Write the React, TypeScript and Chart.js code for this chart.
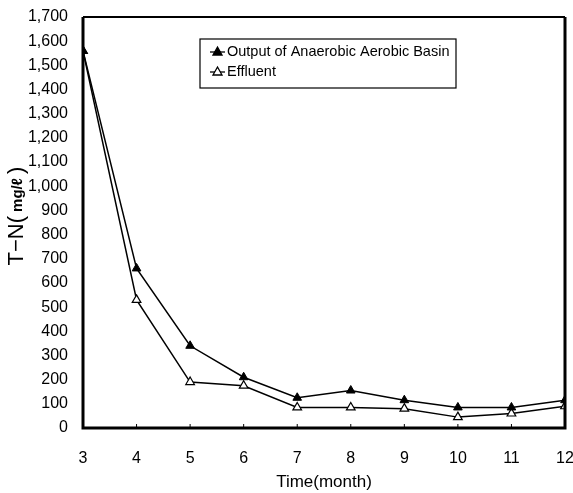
import React, { useEffect, useRef } from "react";
import { Chart, registerables } from "chart.js";

Chart.register(...registerables);

const months = [3, 4, 5, 6, 7, 8, 9, 10, 11, 12];
const outputAnaerobicAerobic = [1560, 660, 340, 210, 125, 155, 115, 85, 85, 115];
const effluent = [1560, 530, 190, 175, 85, 85, 80, 45, 60, 90];
const seriesLabels = ["Output of Anaerobic Aerobic Basin", "Effluent"];
const xTitle = "Time(month)";
const yTitleParts = ["T\u2212N(", "mg/\u2113", ")"];

const FONT = "'Liberation Sans', Arial, sans-serif";

const frameAndLegend = {
  id: "frameAndLegend",
  afterDatasetsDraw(chart: any) {
    const { ctx, chartArea: a, scales } = chart;
    ctx.save();
    // inner tick marks on x axis
    ctx.strokeStyle = "#000";
    ctx.lineWidth = 1;
    scales.x.ticks.forEach((t: any) => {
      const px = scales.x.getPixelForValue(t.value);
      ctx.beginPath();
      ctx.moveTo(px, a.bottom);
      ctx.lineTo(px, a.bottom - 4);
      ctx.stroke();
    });
    // frame
    ctx.lineWidth = 3;
    ctx.beginPath();
    ctx.moveTo(a.left, a.top);
    ctx.lineTo(a.left, a.bottom);
    ctx.lineTo(a.right, a.bottom);
    ctx.lineTo(a.right, a.top);
    ctx.stroke();
    ctx.lineWidth = 1.8;
    ctx.beginPath();
    ctx.moveTo(a.left, a.top);
    ctx.lineTo(a.right, a.top);
    ctx.stroke();

    // legend
    const bx = 200, by = 39, bw = 256, bh = 49;
    ctx.fillStyle = "#fff";
    ctx.fillRect(bx, by, bw, bh);
    ctx.lineWidth = 1.2;
    ctx.strokeStyle = "#000";
    ctx.strokeRect(bx, by, bw, bh);
    const rows = [52, 72];
    chart.data.datasets.forEach((ds: any, i: number) => {
      const y = rows[i];
      ctx.lineWidth = 1.3;
      ctx.beginPath();
      ctx.moveTo(210, y);
      ctx.lineTo(225, y);
      ctx.stroke();
      ctx.beginPath();
      ctx.moveTo(217.5, y - 5);
      ctx.lineTo(222, y + 3);
      ctx.lineTo(213, y + 3);
      ctx.closePath();
      ctx.fillStyle = ds.pointBackgroundColor;
      ctx.fill();
      ctx.stroke();
      ctx.fillStyle = "#000";
      ctx.font = `14.5px ${FONT}`;
      ctx.textBaseline = "middle";
      ctx.textAlign = "left";
      ctx.fillText(ds.label, 227, y);
    });

    // y axis title (mixed sizes)
    ctx.translate(17, 216);
    ctx.rotate(-Math.PI / 2);
    const fonts = [`22px ${FONT}`, `bold 15px ${FONT}`, `22px ${FONT}`];
    const pads = [0, 8, 0];
    let total = 0;
    const widths = yTitleParts.map((p, i) => {
      ctx.font = fonts[i];
      const w = ctx.measureText(p).width + pads[i];
      total += w;
      return w;
    });
    let x = -total / 2;
    ctx.fillStyle = "#000";
    ctx.textBaseline = "middle";
    ctx.textAlign = "left";
    yTitleParts.forEach((p, i) => {
      ctx.font = fonts[i];
      ctx.fillText(p, x + pads[i] / 2, i === 1 ? 1 : 0);
      x += widths[i];
    });
    ctx.restore();
  },
};

export default function App() {
  const ref = useRef<HTMLCanvasElement>(null);
  useEffect(() => {
    document.body.style.margin = "0";
    const chart = new Chart(ref.current!, {
      type: "line",
      data: {
        labels: months,
        datasets: [
          {
            label: seriesLabels[0],
            data: outputAnaerobicAerobic.map((v, i) => ({ x: months[i], y: v })),
            borderColor: "#000",
            borderWidth: 1.5,
            pointStyle: "triangle",
            pointRadius: 5,
            pointBackgroundColor: "#000",
            pointBorderColor: "#000",
            pointBorderWidth: 1,
            tension: 0,
          },
          {
            label: seriesLabels[1],
            data: effluent.map((v, i) => ({ x: months[i], y: v })),
            borderColor: "#000",
            borderWidth: 1.5,
            pointStyle: "triangle",
            pointRadius: 5,
            pointBackgroundColor: "#fff",
            pointBorderColor: "#000",
            pointBorderWidth: 1.2,
            tension: 0,
          },
        ],
      },
      options: {
        animation: false,
        responsive: false,
        layout: { padding: { top: 17, right: 8, left: 0, bottom: 0 } },
        plugins: { legend: { display: false }, tooltip: { enabled: false } },
        scales: {
          x: {
            type: "linear",
            min: 3,
            max: 12,
            afterFit: (s: any) => {
              s.height = 65;
              s.paddingRight = 0;
              s.paddingLeft = 0;
            },
            ticks: {
              stepSize: 1,
              color: "#000",
              font: { family: FONT, size: 16 },
              padding: 21,
            },
            grid: { display: false, drawTicks: false },
            border: { display: false },
            title: {
              display: true,
              text: xTitle,
              color: "#000",
              font: { family: FONT, size: 17 },
              padding: { top: 0, bottom: 0 },
            },
          },
          y: {
            min: 0,
            max: 1700,
            afterFit: (s: any) => {
              s.width = 83;
              s.paddingTop = 0;
              s.paddingBottom = 0;
            },
            ticks: {
              stepSize: 100,
              color: "#000",
              font: { family: FONT, size: 16 },
              padding: 15,
              callback: (v: any) => Number(v).toLocaleString("en-US"),
            },
            grid: { display: false, drawTicks: false },
            border: { display: false },
            title: { display: false },
          },
        },
      },
      plugins: [frameAndLegend],
    });
    return () => chart.destroy();
  }, []);
  return <canvas ref={ref} width={573} height={493} style={{ display: "block" }} />;
}
